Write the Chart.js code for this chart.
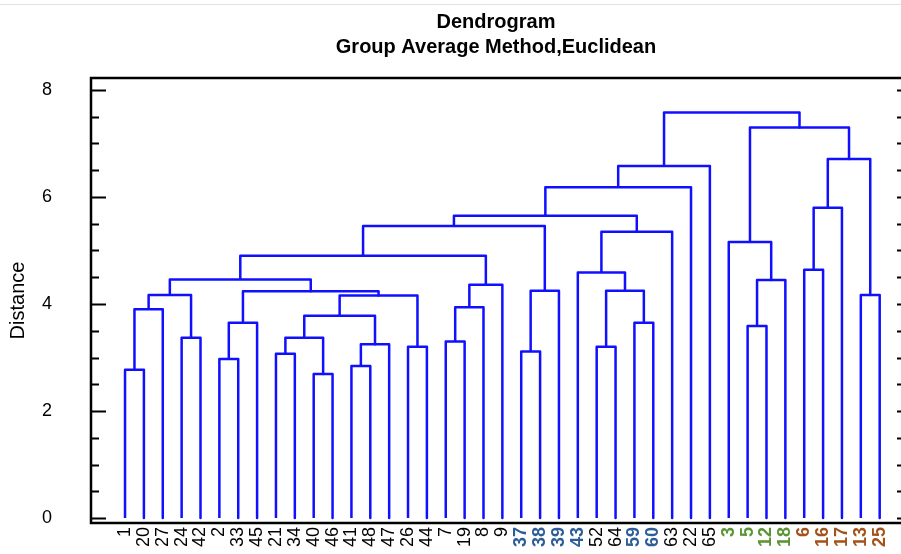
<!DOCTYPE html>
<html>
<head>
<meta charset="utf-8">
<script src="https://cdn.jsdelivr.net/npm/chart.js@4/dist/chart.umd.min.js"></script>
<style>
  body { margin: 0; background: #fff; }
  #wrap { position: relative; width: 901px; height: 554px; }
  #edge { position: absolute; left: 0; top: 4px; width: 901px; height: 1px; background: #e2e2e2; }
</style>
</head>
<body>
<div id="wrap">
  <canvas id="canvas1" width="901" height="554"></canvas>
  <div id="edge"></div>
</div>
<script>
// leaves, left to right, as printed under the axis
let leafLabels = ['1','20','27','24','42','2','33','45','21','34','40','46','41','48','47','26','44','7','19','8','9',
                  '37','38','39','43','52','64','59','60','63','22','65','3','5','12','18','6','16','17','13','25'];
// label group: 0 = black, 1 = blue, 2 = green, 3 = brown
let leafGroup = [0,0,0,0,0,0,0,0,0,0,0,0,0,0,0,0,0,0,0,0,0,
                 1,1,1,1,0,0,1,1,0,0,0,2,2,2,2,3,3,3,3,3];
let groupColors = ['#000000', '#2d5d96', '#5a9433', '#a4521c'];

// merges: leaves are 0..40 (their position), merge k becomes node 41+k
let mergeA = [0, 41, 3, 42, 5, 45, 8, 10, 47, 12, 50, 49, 15, 52, 46, 44, 17, 57, 58, 56,
              21, 61, 60, 25, 27, 64, 24, 67, 63, 69, 70, 33, 72, 32, 36, 75, 39, 76, 74, 71];
let mergeB = [1, 2, 4, 43, 6, 7, 9, 11, 48, 13, 14, 51, 16, 53, 54, 55, 18, 19, 20, 59,
              22, 23, 62, 26, 28, 65, 66, 29, 68, 30, 31, 34, 35, 73, 37, 38, 40, 77, 78, 79];
let mergeHeight = [2.77, 3.90, 3.37, 4.17, 2.97, 3.65, 3.07, 2.69, 3.37, 2.84,
                   3.25, 3.78, 3.20, 4.16, 4.24, 4.46, 3.30, 3.94, 4.36, 4.90,
                   3.11, 4.25, 5.46, 3.20, 3.65, 4.25, 4.59, 5.35, 5.65, 6.18,
                   6.58, 3.59, 4.45, 5.16, 4.64, 5.80, 4.17, 6.71, 7.30, 7.58];

// y axis ticks (minor every 0.5, labels on the even ones)
let yTicks = [0, 0.5, 1, 1.5, 2, 2.5, 3, 3.5, 4, 4.5, 5, 5.5, 6, 6.5, 7, 7.5, 8];
let yLabels = [0, 2, 4, 6, 8];

// where each node sits: leaves at their index, merges halfway between children
let nodeX = leafLabels.map((l, i) => i);
let nodeY = leafLabels.map(() => 0);
let datasets = [];
for (let k = 0; k < mergeA.length; k++) {
  let a = mergeA[k], b = mergeB[k], h = mergeHeight[k];
  nodeX.push((nodeX[a] + nodeX[b]) / 2);
  nodeY.push(h);
  datasets.push({
    data: [
      {x: nodeX[a], y: nodeY[a]},
      {x: nodeX[a], y: h},
      {x: nodeX[b], y: h},
      {x: nodeX[b], y: nodeY[b]}
    ],
    showLine: true,
    borderColor: '#1010ff',
    borderWidth: 2.5,
    borderJoinStyle: 'round',
    pointRadius: 0,
    fill: false
  });
}

// frame (its right side sits just past the canvas edge) plus inward tick marks
let framePlugin = {
  id: 'frame',
  afterDraw(chart) {
    let ctx = chart.ctx;
    let area = chart.chartArea;
    let y = chart.scales.y;
    let right = area.right + 4;
    ctx.save();
    ctx.strokeStyle = '#000';
    ctx.lineWidth = 2.5;
    ctx.strokeRect(area.left, area.top, right - area.left, area.bottom - area.top);
    ctx.lineWidth = 2;
    for (let v of yTicks) {
      let py = Math.round(y.getPixelForValue(v)) + 0.5;
      let len = yLabels.includes(v) ? 15 : 8;
      ctx.beginPath();
      ctx.moveTo(area.left, py);
      ctx.lineTo(area.left + len, py);
      ctx.moveTo(right, py);
      ctx.lineTo(right - 8, py);
      ctx.stroke();
    }
    ctx.restore();
  }
};

let options = {
  type: 'scatter',
  data: { datasets: datasets },
  options: {
    responsive: false,
    animation: false,
    layout: { padding: { left: 0, right: 0, top: 0, bottom: 0 } },
    plugins: {
      legend: { display: false },
      tooltip: { enabled: false },
      title: {
        display: true,
        fullSize: false,
        text: 'Dendrogram',
        color: '#000',
        font: { family: "'Liberation Sans', Arial, sans-serif", size: 20, weight: 'bold' },
        padding: { top: 10, bottom: 1 }
      },
      subtitle: {
        display: true,
        fullSize: false,
        text: 'Group Average Method,Euclidean',
        color: '#000',
        font: { family: "'Liberation Sans', Arial, sans-serif", size: 20, weight: 'bold' },
        padding: { top: 0, bottom: 19 }
      }
    },
    scales: {
      x: {
        type: 'linear',
        min: -1.804,
        max: 41.13,
        grid: { display: false, drawTicks: false },
        border: { display: false },
        afterBuildTicks: (axis) => { axis.ticks = leafLabels.map((l, i) => ({ value: i })); },
        afterFit: (axis) => { axis.height = 31; axis.paddingLeft = 0; axis.paddingRight = 0; },
        ticks: {
          autoSkip: false,
          minRotation: 90,
          maxRotation: 90,
          padding: 4,
          callback: (v) => leafLabels[v],
          color: (c) => groupColors[leafGroup[c.index]],
          font: (c) => ({
            family: "'Liberation Sans', Arial, sans-serif",
            size: 18,
            weight: leafGroup[c.index] ? 'bold' : 'normal'
          })
        }
      },
      y: {
        min: -0.093,
        max: 8.224,
        grid: { display: false, drawTicks: false },
        border: { display: false },
        afterBuildTicks: (axis) => { axis.ticks = yTicks.map(v => ({ value: v })); },
        afterFit: (axis) => { axis.width = 91; axis.paddingTop = 0; axis.paddingBottom = 0; },
        ticks: {
          autoSkip: false,
          padding: 39,
          color: '#000',
          font: { family: "'Liberation Sans', Arial, sans-serif", size: 18 },
          callback: (v) => yLabels.includes(v) ? String(v) : ''
        },
        title: {
          display: true,
          text: 'Distance',
          color: '#000',
          font: { family: "'Liberation Sans', Arial, sans-serif", size: 20 },
          padding: { top: 6, bottom: 0 }
        }
      }
    }
  },
  plugins: [framePlugin]
};

let chart = new Chart(document.getElementById('canvas1'), options);
</script>
</body>
</html>
